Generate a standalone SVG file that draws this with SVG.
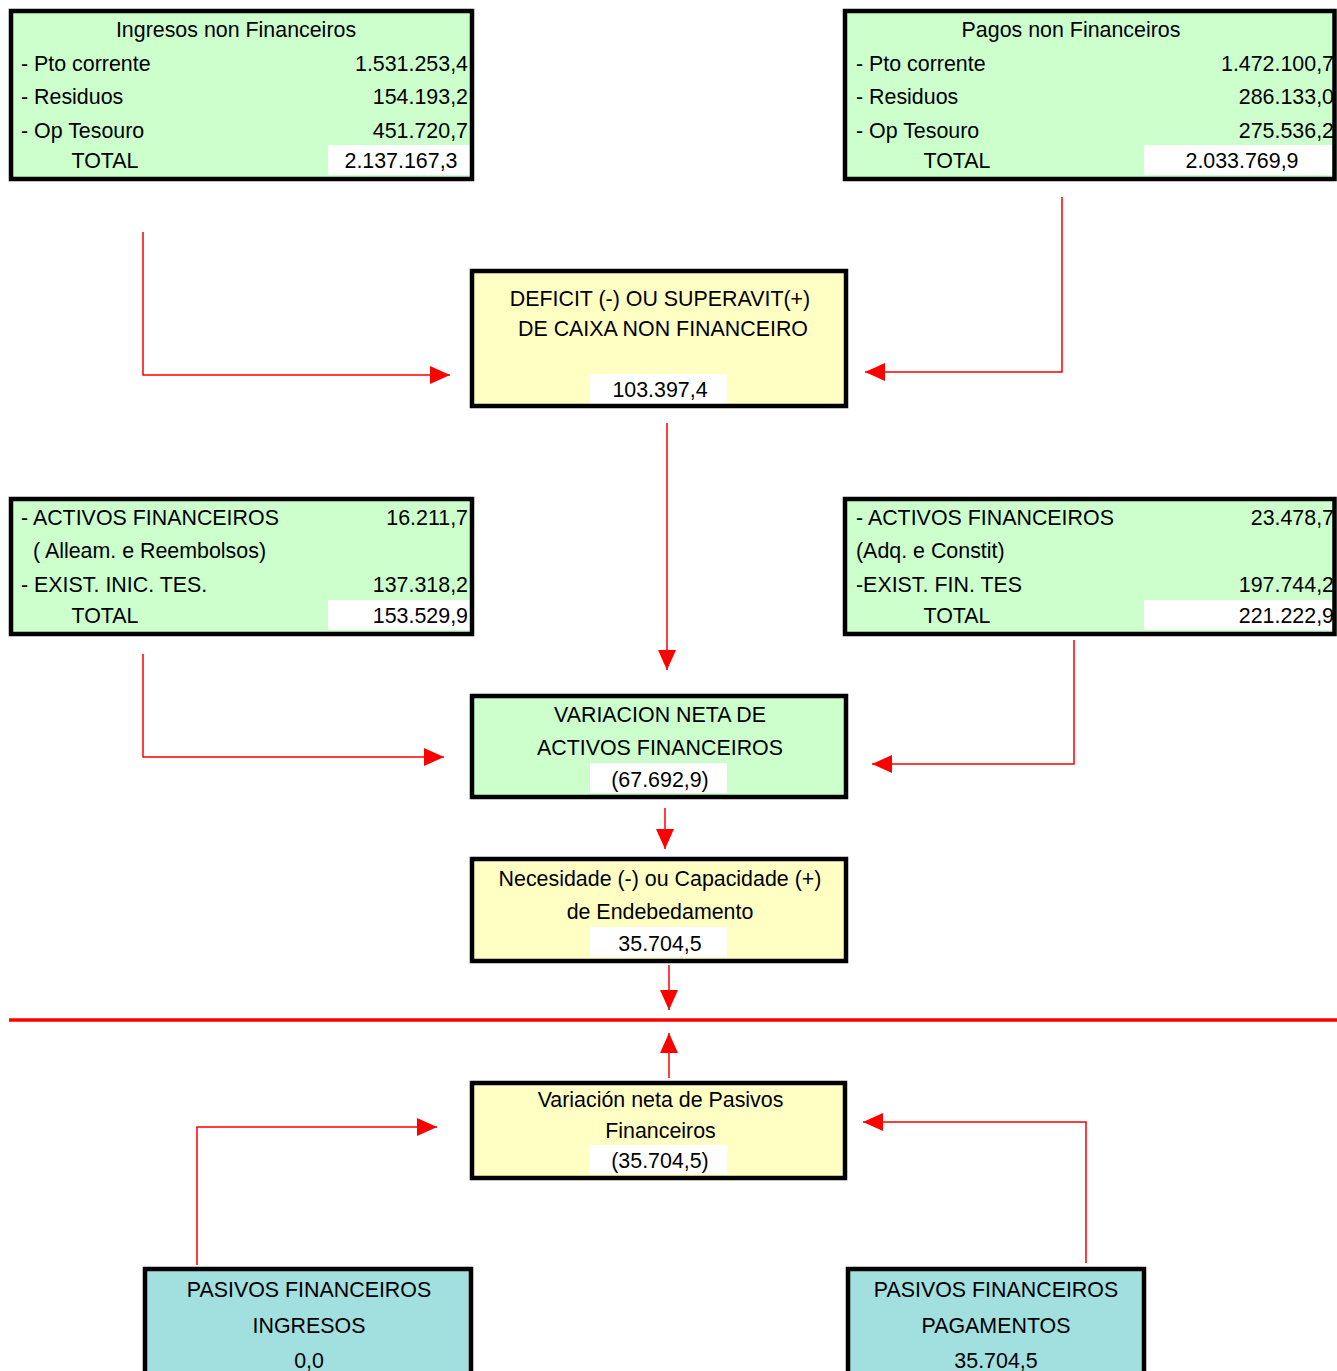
<svg xmlns="http://www.w3.org/2000/svg" width="1337" height="1371" viewBox="0 0 1337 1371">
<defs>
<marker id="ah" markerUnits="userSpaceOnUse" markerWidth="20" markerHeight="18" refX="20" refY="9" orient="auto">
<path d="M0,0 L20,9 L0,18 z" fill="#FF0000"/>
</marker>
<style>
text{font-family:"Liberation Sans",Arial,sans-serif;font-size:21.4px;fill:#000}
.m{text-anchor:middle}
.r{text-anchor:end}
.box{stroke:#000;stroke-width:4.5}
.g{fill:#CCFFCC}
.y{fill:#FFFFC4}
.t{fill:#A2DFDF}
.w{fill:#FFFFFF}
.c{fill:none;stroke:#FF0000;stroke-width:1.5;marker-end:url(#ah)}
</style>
</defs>
<rect width="1337" height="1371" fill="#FFFFFF"/>
<g id="connectors">
<path class="c" d="M143,232 V375 H450"/>
<path class="c" d="M1062,197 V372 H865"/>
<path class="c" d="M667,423 V670"/>
<path class="c" d="M143,654 V757 H444"/>
<path class="c" d="M1074,640 V764 H872"/>
<path class="c" d="M665,808 V849"/>
<path class="c" d="M669,965 V1010"/>
<path class="c" d="M669,1078 V1033"/>
<path class="c" d="M197,1265 V1127 H437"/>
<path class="c" d="M1086,1263 V1122 H863"/>
<path d="M9,1020 H1337" stroke="#FF0000" stroke-width="3.5" fill="none"/>
</g>
<g id="ingresos-non-financeiros">
<rect class="g" x="11" y="11" width="461" height="168"/>
<rect class="w" x="328" y="145" width="142" height="30"/>
<rect class="box" x="11" y="11" width="461" height="168" fill="none"/>
<text class="m" x="236" y="37">Ingresos non Financeiros</text>
<text x="21" y="71">- Pto corrente</text>
<text class="r" x="468" y="71">1.531.253,4</text>
<text x="21" y="104">- Residuos</text>
<text class="r" x="468" y="104">154.193,2</text>
<text x="21" y="138">- Op Tesouro</text>
<text class="r" x="468" y="138">451.720,7</text>
<text class="m" x="105" y="168">TOTAL</text>
<text class="m" x="401" y="168">2.137.167,3</text>
</g>
<g id="pagos-non-financeiros">
<rect class="g" x="845" y="11" width="489.5" height="168"/>
<rect class="w" x="1144" y="145" width="188" height="30"/>
<rect class="box" x="845" y="11" width="489.5" height="168" fill="none"/>
<text class="m" x="1071" y="37">Pagos non Financeiros</text>
<text x="856" y="71">- Pto corrente</text>
<text class="r" x="1334" y="71">1.472.100,7</text>
<text x="856" y="104">- Residuos</text>
<text class="r" x="1334" y="104">286.133,0</text>
<text x="856" y="138">- Op Tesouro</text>
<text class="r" x="1334" y="138">275.536,2</text>
<text class="m" x="957" y="168">TOTAL</text>
<text class="m" x="1242" y="168">2.033.769,9</text>
</g>
<g id="deficit">
<rect class="y" x="472" y="271" width="374" height="135"/>
<rect class="w" x="590" y="374" width="137" height="30"/>
<rect class="box" x="472" y="271" width="374" height="135" fill="none"/>
<text class="m" x="660" y="306">DEFICIT (-) OU SUPERAVIT(+)</text>
<text class="m" x="663" y="336">DE CAIXA NON FINANCEIRO</text>
<text class="m" x="660" y="397">103.397,4</text>
</g>
<g id="activos-ingresos">
<rect class="g" x="11" y="499" width="461" height="135"/>
<rect class="w" x="328" y="600" width="142" height="30"/>
<rect class="box" x="11" y="499" width="461" height="135" fill="none"/>
<text x="21" y="525">- ACTIVOS FINANCEIROS</text>
<text class="r" x="468" y="525">16.211,7</text>
<text x="33" y="558">( Alleam. e Reembolsos)</text>
<text x="21" y="592">- EXIST. INIC. TES.</text>
<text class="r" x="468" y="592">137.318,2</text>
<text class="m" x="105" y="623">TOTAL</text>
<text class="r" x="468" y="623">153.529,9</text>
</g>
<g id="activos-pagos">
<rect class="g" x="845" y="499" width="489.5" height="135"/>
<rect class="w" x="1144" y="600" width="188" height="30"/>
<rect class="box" x="845" y="499" width="489.5" height="135" fill="none"/>
<text x="856" y="525">- ACTIVOS FINANCEIROS</text>
<text class="r" x="1334" y="525">23.478,7</text>
<text x="856" y="558">(Adq. e Constit)</text>
<text x="856" y="592">-EXIST. FIN. TES</text>
<text class="r" x="1334" y="592">197.744,2</text>
<text class="m" x="957" y="623">TOTAL</text>
<text class="r" x="1334" y="623">221.222,9</text>
</g>
<g id="variacion-activos">
<rect class="g" x="472" y="696" width="374" height="101"/>
<rect class="w" x="590" y="763" width="137" height="30"/>
<rect class="box" x="472" y="696" width="374" height="101" fill="none"/>
<text class="m" x="660" y="722">VARIACION NETA DE</text>
<text class="m" x="660" y="755">ACTIVOS FINANCEIROS</text>
<text class="m" x="660" y="787">(67.692,9)</text>
</g>
<g id="necesidade">
<rect class="y" x="472" y="859" width="374" height="102"/>
<rect class="w" x="590" y="927" width="137" height="30"/>
<rect class="box" x="472" y="859" width="374" height="102" fill="none"/>
<text class="m" x="660" y="886">Necesidade (-) ou Capacidade (+)</text>
<text class="m" x="660" y="919">de Endebedamento</text>
<text class="m" x="660" y="951">35.704,5</text>
</g>
<g id="variacion-pasivos">
<rect class="y" x="472" y="1083" width="373" height="95"/>
<rect class="w" x="589" y="1145" width="138" height="29"/>
<rect class="box" x="472" y="1083" width="373" height="95" fill="none"/>
<text class="m" x="660.5" y="1107">Variación neta de Pasivos</text>
<text class="m" x="660.5" y="1138">Financeiros</text>
<text class="m" x="660" y="1168">(35.704,5)</text>
</g>
<g id="pasivos-ingresos">
<rect class="t box" x="145" y="1269" width="326" height="120"/>
<text class="m" x="309" y="1297">PASIVOS FINANCEIROS</text>
<text class="m" x="309" y="1333">INGRESOS</text>
<text class="m" x="309" y="1368">0,0</text>
</g>
<g id="pasivos-pagamentos">
<rect class="t box" x="848" y="1269" width="296" height="120"/>
<text class="m" x="996" y="1297">PASIVOS FINANCEIROS</text>
<text class="m" x="996" y="1333">PAGAMENTOS</text>
<text class="m" x="996" y="1368">35.704,5</text>
</g>
</svg>
